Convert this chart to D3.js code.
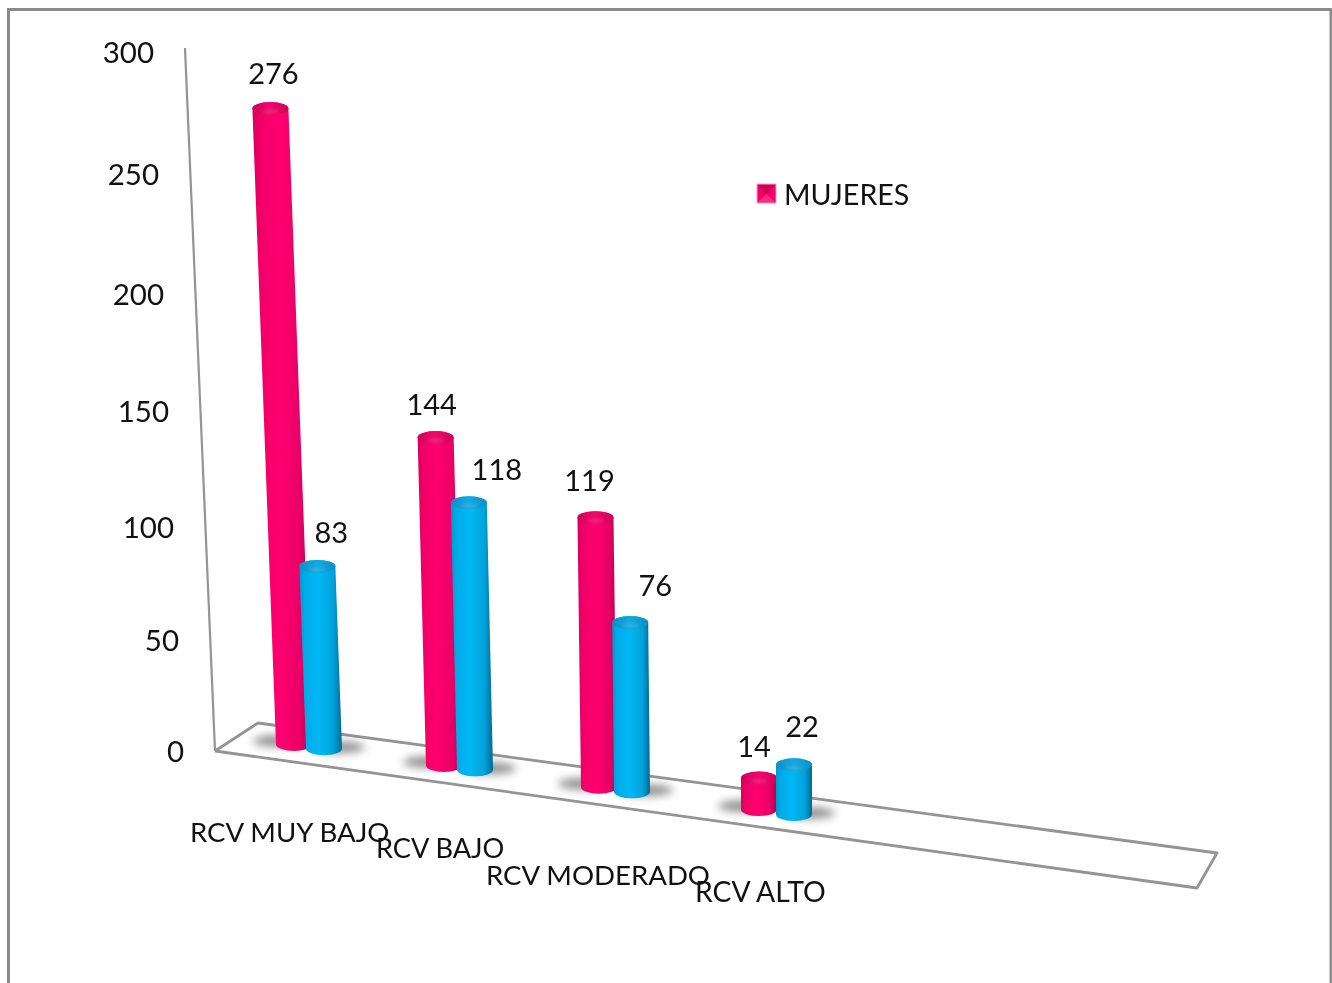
<!DOCTYPE html>
<html><head><meta charset="utf-8">
<style>html,body{margin:0;padding:0;background:#fff;overflow:hidden}svg{display:block;filter:blur(0.45px)}text{font-family:Lato,Carlito,sans-serif;fill:#111}</style>
<script src="https://cdn.jsdelivr.net/npm/d3@7/dist/d3.min.js"></script>
</head><body>
<svg id="c" width="1332" height="983"></svg>
<script>
const categories = ["RCV MUY BAJO","RCV BAJO","RCV MODERADO","RCV ALTO"];
const mujeres = [276,144,119,14];
const hombres = [83,118,76,22];
const yTicks = [0,50,100,150,200,250,300];
const tickY = [752,641,528,412,295,175,53];

const svg = d3.select("#c");
const defs = svg.append("defs");

// projection scales
const tickYScale = d3.scaleLinear().domain(yTicks).range(tickY);
const tickXScale = d3.scaleLinear().domain([0,300]).range([184,154]);
const catPink = d3.scaleOrdinal().domain(categories).range([294,444,599,759]);
const catBlue = d3.scaleOrdinal().domain(categories).range([324,475,632,794]);
const floorY = d3.scaleLinear().domain([294,794]).range([751,821]);
const lean = d3.scaleLinear().domain([215,760]).range([0.1,0]).clamp(true);
const heightK = d3.scaleLinear().domain([0,70,85,120,300]).range([0,158,186,272,692]);
const barW = 36, ry = 6.5;

function grad(id, stops){
  const g = defs.append("linearGradient").attr("id",id).attr("x1",0).attr("x2",1).attr("y1",0).attr("y2",0);
  stops.forEach(s=>g.append("stop").attr("offset",s[0]).attr("stop-color",s[1]));
}
grad("pinkBody",[[0,"#d8005a"],[0.12,"#f00068"],[0.45,"#ff0070"],[0.8,"#e80066"],[1,"#b4004e"]]);
grad("blueBody",[[0,"#0096d0"],[0.12,"#00aae8"],[0.45,"#00b8f4"],[0.8,"#00a2dc"],[1,"#00698f"]]);
grad("pinkTop",[[0,"#d0005a"],[0.5,"#f0086a"],[1,"#d0005a"]]);
grad("blueTop",[[0,"#0a90c8"],[0.5,"#14a8e0"],[1,"#0a90c8"]]);
const blur = defs.append("filter").attr("id","soft").attr("x","-60%").attr("y","-100%").attr("width","220%").attr("height","300%");
blur.append("feGaussianBlur").attr("stdDeviation",4.5);
const blur2 = defs.append("filter").attr("id","soft2").attr("x","-60%").attr("y","-100%").attr("width","220%").attr("height","300%");
blur2.append("feGaussianBlur").attr("stdDeviation",1.5);

// outer frame
const framePts = [[8.5,983],[8.5,9.5],[1331,9.5],[1331,983]];
svg.append("path").attr("d",d3.line()(framePts)).attr("fill","none").attr("stroke","#8c8c8c").attr("stroke-width",3);

// axis wall line and floor outline
const lineCol = "#949494";
const line = d3.line();
svg.append("path").attr("d",line([[185,48],[215,751]])).attr("fill","none").attr("stroke",lineCol).attr("stroke-width",2.2);
svg.append("path").attr("d",line([[215,751],[258,723],[1217,853],[1197,888],[215,751]]))
   .attr("fill","none").attr("stroke",lineCol).attr("stroke-width",2.8).attr("stroke-linejoin","round");

// tick labels
svg.append("g").selectAll("text").data(yTicks).join("text")
  .attr("x",d=>tickXScale(d)).attr("y",d=>tickYScale(d)+9.5)
  .attr("text-anchor","end").attr("font-size",29.5).text(d=>d);

// flatten the bars
const bars = [];
categories.forEach((c,i)=>{
  bars.push({c,v:mujeres[i],x:catPink(c),k:"pink"});
  bars.push({c,v:hombres[i],x:catBlue(c),k:"blue"});
});
bars.forEach(b=>{
  b.bottom = floorY(b.x);
  b.h = heightK(b.v);
  b.dx = lean(b.x)*b.v;
});

// shadows
svg.append("g").selectAll("ellipse").data(bars).join("ellipse")
  .attr("cx",b=>b.x + (b.k==="pink"?-14:14))
  .attr("cy",b=>b.bottom-8+(b.k==="pink"?-2:0))
  .attr("rx",27).attr("ry",6)
  .attr("fill","#808080").attr("opacity",.85).attr("filter","url(#soft)");

// cylinders
const g = svg.append("g");
bars.forEach(b=>{
  const xb=b.x, yb=b.bottom-ry, xt=b.x-b.dx, yt=b.bottom-ry-b.h;
  const r=barW/2;
  const d=`M${xt-r},${yt} L${xb-r},${yb} A${r},${ry} 0 0 0 ${xb+r},${yb} L${xt+r},${yt} A${r},${ry} 0 0 0 ${xt-r},${yt} Z`;
  g.append("path").attr("d",d).attr("fill",`url(#${b.k}Body)`);
  g.append("ellipse").attr("cx",xt).attr("cy",yt).attr("rx",r).attr("ry",ry).attr("fill",`url(#${b.k}Top)`);
  g.append("ellipse").attr("cx",xt).attr("cy",yt+3).attr("rx",r*0.5).attr("ry",2)
    .attr("fill","#ffffff").attr("opacity",.12).attr("filter","url(#soft2)");
});

// value labels
function b0(v,x){return lean(x)*v;}
const labelPos = {
  pink:{dx:[3,-4,-6,-5], y:[74,405,481,747]},
  blue:{dx:[14,28,25,8], y:[533,470,586,727]}
};
const lab = svg.append("g");
categories.forEach((c,i)=>{
  lab.append("text").attr("x",catPink(c)-b0(mujeres[i],catPink(c))+labelPos.pink.dx[i]).attr("y",labelPos.pink.y[i]+9.5)
    .attr("text-anchor","middle").attr("font-size",29).text(mujeres[i]);
  lab.append("text").attr("x",catBlue(c)-b0(hombres[i],catBlue(c))+labelPos.blue.dx[i]).attr("y",labelPos.blue.y[i]+9.5)
    .attr("text-anchor","middle").attr("font-size",29).text(hombres[i]);
});

// category labels
const catLabel = {x:[190,376,486,695], y:[842,858,885,902], fs:[27.6,27.2,27.6,28.4]};
svg.append("g").selectAll("text").data(categories).join("text")
  .attr("x",(d,i)=>catLabel.x[i]).attr("y",(d,i)=>catLabel.y[i])
  .attr("font-size",(d,i)=>catLabel.fs[i]).text(d=>d);

// legend
const lgd = svg.append("g");
lgd.append("rect").attr("x",757).attr("y",184).attr("width",19).attr("height",19).attr("fill","#f00068").attr("stroke","#f5a0c4").attr("stroke-width",1);
lgd.append("path").attr("d",line([[758,185],[775,185],[766.5,194]])).attr("fill","#c80058");
lgd.append("path").attr("d",line([[758,202],[775,202],[766.5,194]])).attr("fill","#ff2a80");
lgd.append("text").attr("x",784).attr("y",204.5).attr("font-size",28.6).text("MUJERES");
</script>
</body></html>
